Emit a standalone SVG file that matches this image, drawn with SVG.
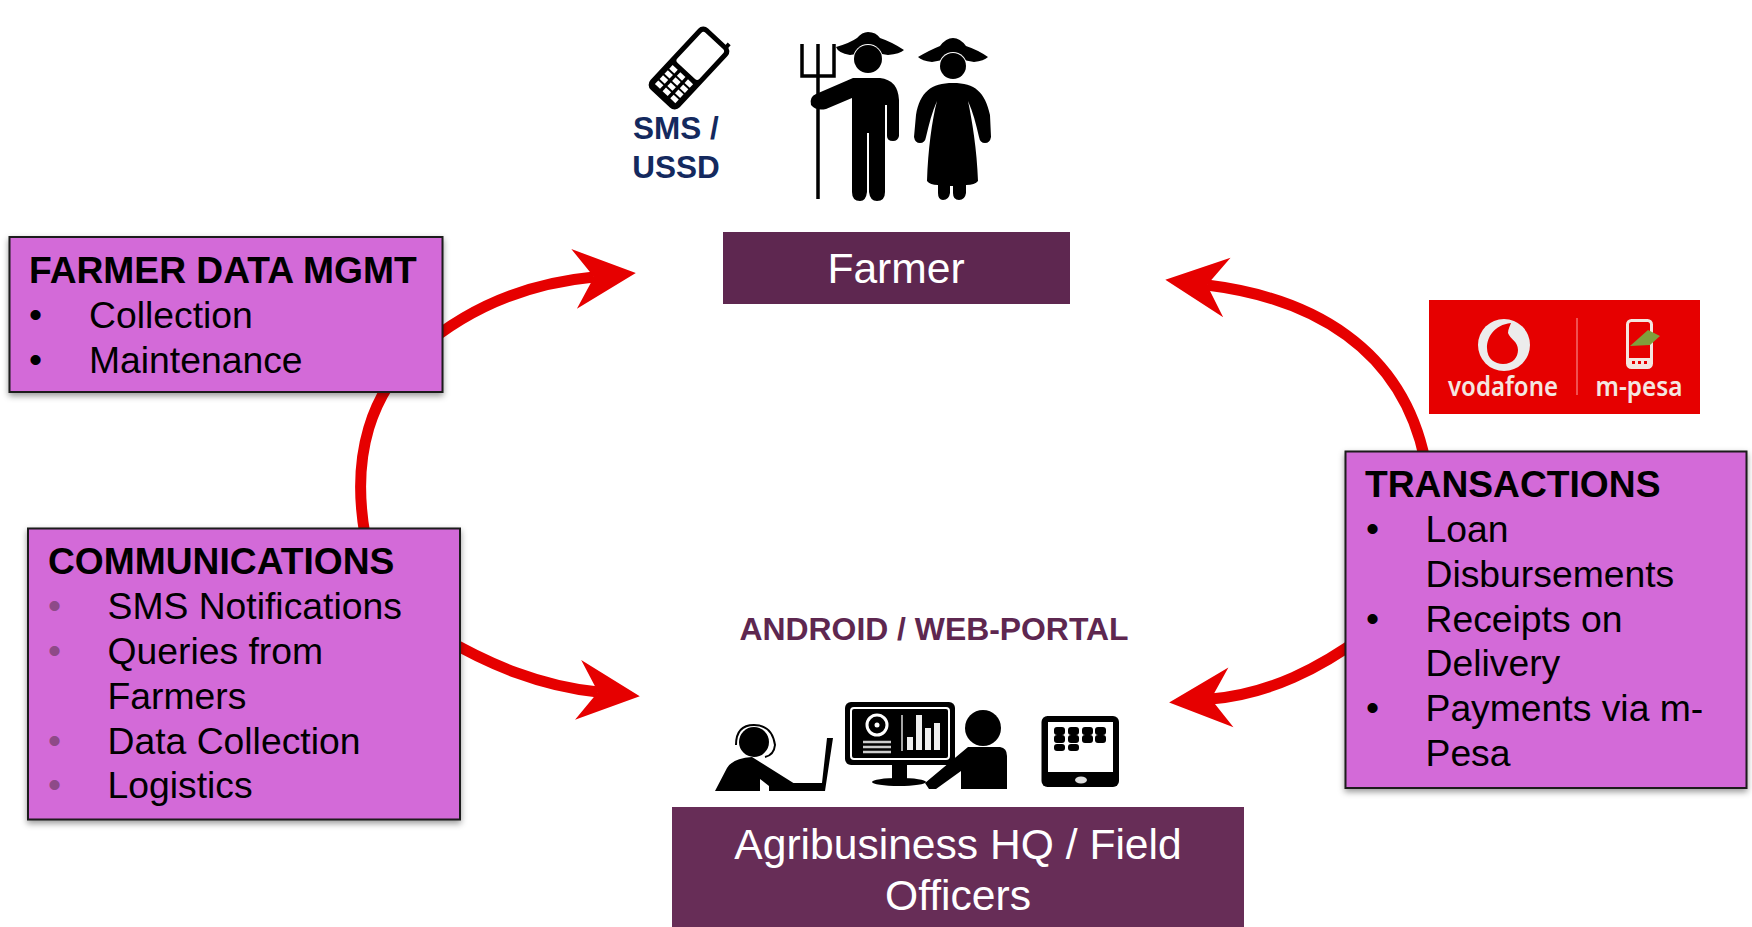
<svg xmlns="http://www.w3.org/2000/svg" width="1752" height="927" viewBox="0 0 1752 927">
<style>
text{font-family:"Liberation Sans",Arial,sans-serif}
.box{fill:#d36bd8;stroke:#1a1a1a;stroke-width:2;filter:url(#sh)}
.h{font-size:37.2px;font-weight:bold;fill:#000}
.b{font-size:37.3px;fill:#000}
.g{font-size:37.3px;fill:#8e4a88}
.w{font-size:42.6px;fill:#fff;text-anchor:middle}
.arc{fill:none;stroke:#e60000;stroke-width:11;marker-end:url(#head)}
.k{fill:#000}
.kl{stroke:#000;fill:none}
.logo{font-size:27px;font-weight:600;fill:#f4e6e0;text-anchor:middle;font-family:"Noto Sans",sans-serif}
</style>
<defs>
<filter id="sh" x="-5%" y="-5%" width="110%" height="115%"><feDropShadow dx="0" dy="3" stdDeviation="3" flood-color="#000" flood-opacity=".4"/></filter>
<marker id="head" markerUnits="userSpaceOnUse" viewBox="-22 -32 66 64" refX="0" refY="0" markerWidth="66" markerHeight="64" orient="auto">
<path d="M42 0L-20 -30L0 0L-20 30Z" fill="#e60000"/>
</marker>
</defs>

<g id="connectors">
<path class="arc" d="M365 535C351 455 371 392 419 350C470 306 530 283 594 277"/>
<path class="arc" d="M440 636C490 665 540 686 598 692"/>
<path class="arc" d="M1425 460C1402 348 1312 298 1207 285"/>
<path class="arc" d="M1365 635C1320 668 1270 694 1211 699"/>
</g>

<g id="sms-icon">
<g transform="translate(689 68) rotate(43)">
<rect x="-20" y="-42" width="40" height="84" rx="7" class="k"/>
<rect x="11" y="-45" width="4" height="6" class="k"/>
<rect x="-15" y="-37" width="30" height="41" rx="3" fill="#fff"/>
<g fill="#fff">
<rect x="-14" y="9" width="7" height="5"/><rect x="-3.500" y="9" width="7" height="5"/><rect x="7" y="9" width="7" height="5"/>
<rect x="-14" y="16" width="7" height="5"/><rect x="-3.500" y="16" width="7" height="5"/><rect x="7" y="16" width="7" height="5"/>
<rect x="-14" y="23" width="7" height="5"/><rect x="-3.500" y="23" width="7" height="5"/><rect x="7" y="23" width="7" height="5"/>
<rect x="-14" y="30" width="7" height="5"/><rect x="-3.500" y="30" width="7" height="5"/><rect x="7" y="30" width="7" height="5"/>
</g>
</g>
<text x="676" y="139" font-size="31.500" font-weight="bold" fill="#14295e" text-anchor="middle">SMS /</text>
<text x="676" y="178" font-size="31.500" font-weight="bold" fill="#14295e" text-anchor="middle">USSD</text>
</g>

<g id="farmer-icon">
<path class="kl" stroke-width="3.500" d="M818 44V199M802 44V76H834V44"/>
<path class="k" d="M836 47Q850 43 857 38Q862 32 868 32Q876 32 880 38Q892 42 904 50Q900 54 888 55L870 52L850 55Q838 53 836 47Z"/>
<circle cx="868" cy="59" r="15" fill="#fff"/>
<circle cx="868" cy="59" r="14" class="k"/>
<path class="k" d="M853 78H880Q898 80 899 100V136Q898 141 893 141Q887 141 887 136V105L885 105V192Q885 201 877 201Q870 201 869 192V133H867V192Q866 201 860 201Q852 201 852 192V98L826 109Q816 111 811 105Q809 97 816 94Z"/>
<path class="k" d="M918 57Q930 50 940 46Q946 38 953 38Q960 38 966 46Q978 50 988 57Q984 61 974 62L953 58L932 62Q922 61 918 57Z"/>
<circle cx="953" cy="66" r="14" fill="#fff"/>
<circle cx="953" cy="66" r="13" class="k"/>
<path class="k" d="M953 83C975 83 985 92 990 115L991 137Q990 143 985 143Q980 143 979 137C976 124 973 112 968 101C972 120 977 150 978 181Q975 185 966 185V193Q965 200 959 200Q953 200 953 193V186H950V193Q949 200 943 200Q938 200 938 193V185Q930 185 927 181C928 150 932 120 937 101C932 112 929 124 926 137Q925 143 920 143Q915 143 914 137L916 115C920 92 931 83 953 83Z"/>
</g>

<g id="farmer">
<rect x="723" y="232" width="347" height="72" fill="#5e2750"/>
<text class="w" x="896" y="283">Farmer</text>
</g>

<g id="farmer-data-mgmt">
<rect class="box" x="9.500" y="237" width="433" height="155"/>
<text class="h" x="29" y="283">FARMER DATA MGMT</text>
<text class="b" x="29" y="327">•</text><text class="b" x="89" y="328">Collection</text>
<text class="b" x="29" y="372">•</text><text class="b" x="89" y="373">Maintenance</text>
</g>

<g id="communications">
<rect class="box" x="28" y="528.500" width="432" height="291"/>
<text class="h" x="48" y="574">COMMUNICATIONS</text>
<text class="g" x="48" y="618">•</text><text class="b" x="107.500" y="619">SMS Notifications</text>
<text class="g" x="48" y="663">•</text><text class="b" x="107.500" y="664">Queries from</text>
<text class="b" x="107.500" y="709">Farmers</text>
<text class="g" x="48" y="753">•</text><text class="b" x="107.500" y="754">Data Collection</text>
<text class="g" x="48" y="797">•</text><text class="b" x="107.500" y="798">Logistics</text>
</g>

<g id="transactions">
<rect class="box" x="1345.500" y="451.500" width="401" height="336.500"/>
<text class="h" x="1365" y="497">TRANSACTIONS</text>
<text class="b" x="1366" y="541">•</text><text class="b" x="1425.500" y="542">Loan</text>
<text class="b" x="1425.500" y="587">Disbursements</text>
<text class="b" x="1366" y="631">•</text><text class="b" x="1425.500" y="632">Receipts on</text>
<text class="b" x="1425.500" y="676">Delivery</text>
<text class="b" x="1366" y="720">•</text><text class="b" x="1425.500" y="721">Payments via m-</text>
<text class="b" x="1425.500" y="766">Pesa</text>
</g>

<g id="vodafone-mpesa">
<rect x="1429" y="300" width="271" height="114" fill="#e60000"/>
<circle cx="1504" cy="345" r="26" fill="#ececec"/>
<path d="M1511 323C1494 325 1487 337 1487 348C1487 359 1495 364 1503 364C1513 364 1518 357 1518 350C1518 341 1510 339 1508 333C1508 329 1510 326 1511 323Z" fill="#e60000"/>
<text class="logo" x="1503" y="396" textLength="110" lengthAdjust="spacingAndGlyphs">vodafone</text>
<rect x="1576" y="318" width="2" height="77" fill="#f05050"/>
<rect x="1627.500" y="320.500" width="24" height="47" rx="4" fill="#e60000" stroke="#f4e6e0" stroke-width="3"/>
<rect x="1628" y="358" width="23" height="9" fill="#f4e6e0"/>
<path fill="#e60000" d="M1632 361h3v3h-3zM1638 361h3v3h-3zM1644 361h3v3h-3z"/>
<path d="M1630 346L1648 330L1660 336L1650 345Z" fill="#7f9f3c"/>
<text class="logo" x="1639" y="396" textLength="87" lengthAdjust="spacingAndGlyphs">m-pesa</text>
</g>

<text id="android-label" x="934" y="640" font-size="31" font-weight="bold" fill="#5e2750" text-anchor="middle" textLength="389" lengthAdjust="spacingAndGlyphs">ANDROID / WEB-PORTAL</text>

<g id="hq-icons">
<circle cx="754" cy="742" r="15" class="k"/>
<path class="kl" stroke-width="2" d="M736 745Q736 725 754 725Q772 725 775 745Q774 755 765 757"/>
<path class="k" d="M715 791L727 768Q733 758 752 757L795 784L790 790L769 791L769 786L760 779L760 791Z"/>
<path class="k" d="M769 783L822 783L827 738L833 738L825 791L769 791Z"/>
<rect x="845" y="702" width="110" height="63" rx="6" class="k"/>
<rect x="851" y="708" width="98" height="51" rx="3" fill="none" stroke="#fff" stroke-width="2"/>
<rect x="892" y="764" width="15" height="16" class="k"/>
<ellipse cx="899" cy="782" rx="27" ry="4" class="k"/>
<circle cx="877" cy="725" r="10" fill="none" stroke="#fff" stroke-width="3"/>
<circle cx="877" cy="725" r="2.500" fill="#fff"/>
<path stroke="#ccc" stroke-width="2.500" fill="none" d="M863 742H891M863 747H891M863 752H891"/>
<path stroke="#ddd" stroke-width="1.500" fill="none" d="M902 715V751"/>
<g fill="#eee">
<rect x="907" y="737" width="6" height="13"/><rect x="916" y="715" width="6" height="35"/><rect x="925" y="728" width="6" height="22"/><rect x="934" y="723" width="6" height="27"/>
</g>
<circle cx="983" cy="728" r="18" class="k"/>
<path class="k" d="M968 747H1000Q1007 748 1007 756V789H961V771L936 789H929L925 783Z"/>
<rect x="1041.500" y="716" width="77.500" height="71" rx="6" class="k"/>
<rect x="1048" y="722" width="65" height="50" fill="#fff"/>
<g class="k">
<rect x="1054" y="727" width="11" height="8" rx="3"/><rect x="1068" y="727" width="11" height="8" rx="3"/><rect x="1082" y="727" width="11" height="8" rx="3"/><rect x="1095" y="727" width="11" height="8" rx="3"/>
<rect x="1054" y="735" width="11" height="8" rx="3"/><rect x="1068" y="735" width="11" height="8" rx="3"/><rect x="1082" y="735" width="11" height="8" rx="3"/><rect x="1095" y="735" width="11" height="8" rx="3"/>
<rect x="1054" y="744" width="11" height="7" rx="3"/><rect x="1068" y="744" width="11" height="7" rx="3"/>
</g>
<ellipse cx="1081" cy="780" rx="6" ry="3.500" fill="#ddd"/>
</g>

<g id="agribusiness-hq">
<rect x="672" y="807" width="572" height="120" fill="#672d57"/>
<text class="w" x="958" y="859">Agribusiness HQ / Field</text>
<text class="w" x="958" y="910">Officers</text>
</g>
</svg>
